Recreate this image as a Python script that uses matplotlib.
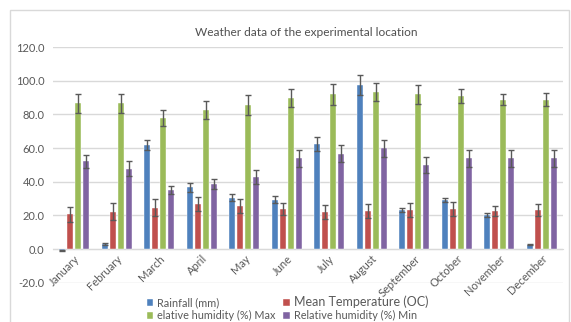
import numpy as np
import matplotlib
matplotlib.use("Agg")
import matplotlib.pyplot as plt
from matplotlib.patches import Rectangle

plt.rcParams['font.family'] = ['Lato', 'DejaVu Sans']

months = ["January", "February", "March", "April", "May", "June", "July",
          "August", "September", "October", "November", "December"]

rainfall = [-0.7, 2.8, 61.7, 36.8, 30.4, 29.3, 62.3, 97.5, 23.0, 29.1, 20.2, 2.6]
rainfall_err = [0.3, 0.5, 3.0, 2.7, 2.0, 2.2, 4.0, 6.1, 1.2, 1.3, 1.4, 0.3]
temp = [20.6, 22.1, 24.5, 26.7, 25.7, 23.6, 21.8, 22.6, 23.2, 23.8, 22.6, 23.2]
temp_err = [4.3, 5.0, 5.0, 4.4, 4.2, 3.5, 4.1, 4.0, 3.9, 4.0, 3.2, 3.4]
rh_max = [86.6, 86.6, 77.7, 82.7, 85.6, 89.6, 91.8, 93.5, 91.8, 90.8, 88.8, 88.8]
rh_max_err = [5.7, 5.7, 4.6, 5.5, 5.8, 5.5, 6.1, 5.4, 5.7, 4.3, 3.5, 4.1]
rh_min = [52.0, 47.8, 34.8, 38.6, 42.9, 53.8, 56.7, 59.9, 49.8, 53.8, 53.8, 53.8]
rh_min_err = [4.0, 4.2, 2.4, 3.0, 4.2, 5.1, 5.0, 5.1, 4.8, 5.0, 5.0, 5.0]

series = [
    ("Rainfall (mm)", rainfall, rainfall_err, "#4f81bd"),
    ("Mean Temperature (OC)", temp, temp_err, "#c0504d"),
    ("elative humidity (%) Max", rh_max, rh_max_err, "#9bbb59"),
    ("Relative humidity (%) Min", rh_min, rh_min_err, "#8064a2"),
]

fig = plt.figure(figsize=(5.71, 3.22), dpi=100)
ax = fig.add_axes([53 / 571, 1 - 282.7 / 322, 510 / 571, (282.7 - 47) / 322])

# chart border
fig.patches.append(Rectangle((10 / 571, -0.1), 559 / 571, 1.1 - 10 / 322,
                             transform=fig.transFigure, fill=False,
                             edgecolor="#d9d9d9", linewidth=1))

x = np.arange(len(months))
step = 0.188
width = 0.145
handles = []
for i, (label, vals, errs, color) in enumerate(series):
    pos = x + (i - 1.5) * step
    b = ax.bar(pos, vals, width, color=color, edgecolor="white", linewidth=0.3,
               label=label, zorder=3)
    ax.errorbar(pos, vals, yerr=errs, fmt="none", ecolor="#595959",
                elinewidth=1, capsize=2.5, capthick=1, zorder=4)
    handles.append(b)

ax.set_xlim(-0.5, len(months) - 0.5)
ax.set_ylim(-20, 120)
ax.set_yticks(np.arange(-20, 121, 20))
ax.set_yticklabels([f"{v:.1f}" for v in np.arange(-20, 121, 20)])
ax.yaxis.grid(True, color="#d9d9d9", linewidth=1, zorder=0)
ax.set_axisbelow(True)
for s in ["top", "right", "left"]:
    ax.spines[s].set_visible(False)
ax.spines["bottom"].set_position(("data", 0))
ax.spines["bottom"].set_color("#d9d9d9")
ax.tick_params(axis="y", length=0, pad=6, labelsize=8, labelcolor="#595959")
ax.tick_params(axis="x", length=0, pad=3, labelsize=8, labelcolor="#595959")
ax.set_xticks(x)
ax.set_xticklabels(months, rotation=45, ha="right", rotation_mode="anchor")

fig.text(306 / 571, 1 - 32 / 322, "Weather data of the experimental location",
         ha="center", va="center", fontsize=8.6, color="#505050")

# legend filled column by column -> reorder so rows read like the original
order = [0, 2, 1, 3]
leg = fig.legend(handles=[handles[k] for k in order],
                 labels=[series[k][0] for k in order], ncol=2,
                 loc="upper left", bbox_to_anchor=(139 / 571, 1 - 288 / 322),
                 frameon=False, fontsize=7.8, handlelength=0.6, handleheight=0.6,
                 handletextpad=0.4, columnspacing=0.7, labelspacing=0.2,
                 borderpad=0.2)
for t in leg.get_texts():
    t.set_color("#595959")
leg.get_texts()[2].set_fontsize(9)

fig.savefig("out.png", dpi=100)
